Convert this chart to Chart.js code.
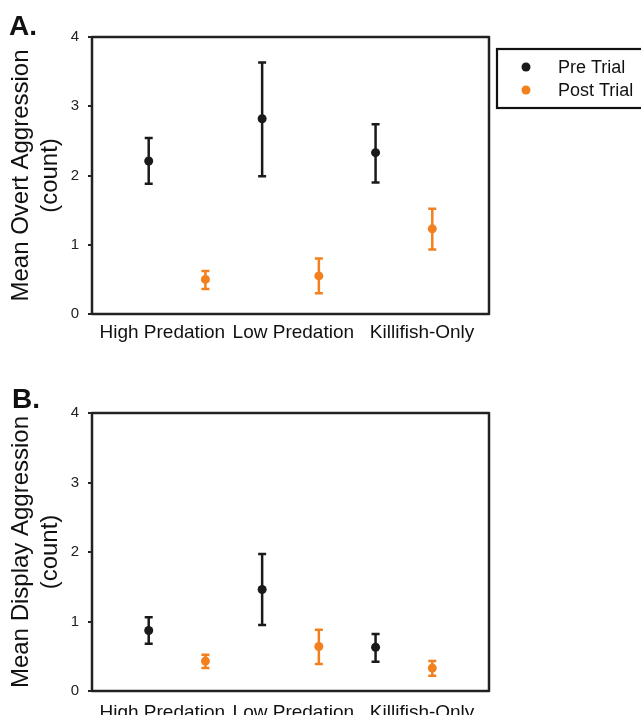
<!DOCTYPE html>
<html><head><meta charset="utf-8">
<script src="https://cdn.jsdelivr.net/npm/chart.js@4/dist/chart.umd.min.js"></script>
<style>
html,body{margin:0;padding:0;background:#fff;overflow:hidden;}
canvas{display:block;}
</style></head>
<body>
<canvas id="cA" width="641" height="360"></canvas>
<canvas id="cB" width="641" height="361"></canvas>
<script>
// ---------- data ----------
const categories = ['High Predation', 'Low Predation', 'Killifish-Only'];
const seriesNames = ['Pre Trial', 'Post Trial'];
const yTickValues = [0, 1, 2, 3, 4];

// Panel A: overt aggression
const overtPre      = [2.21, 2.82, 2.33];
const overtPreLow   = [1.88, 1.99, 1.90];
const overtPreHigh  = [2.54, 3.63, 2.74];
const overtPost     = [0.50, 0.55, 1.23];
const overtPostLow  = [0.36, 0.30, 0.93];
const overtPostHigh = [0.62, 0.80, 1.52];

// Panel B: display aggression
const displayPre      = [0.87, 1.46, 0.63];
const displayPreLow   = [0.68, 0.95, 0.42];
const displayPreHigh  = [1.06, 1.97, 0.82];
const displayPost     = [0.43, 0.64, 0.33];
const displayPostLow  = [0.33, 0.39, 0.22];
const displayPostHigh = [0.52, 0.88, 0.43];

// ---------- styling ----------
const FONT = '"Liberation Sans", Arial, Helvetica, sans-serif';
const BLACK = '#1a1a1a';
const ORANGE = '#f3801f';
const AXIS = '#222222';
const labelPos = [1.24, 3.55, 5.82]; // where category labels sit on the x scale

const errorBarPlugin = {
  id: 'errorBars',
  beforeDatasetsDraw(chart) {
    const ctx = chart.ctx, y = chart.scales.y;
    chart.data.datasets.forEach((ds, di) => {
      const meta = chart.getDatasetMeta(di);
      meta.data.forEach((pt, i) => {
        const x = pt.x;
        const yl = y.getPixelForValue(ds.errLow[i]);
        const yh = y.getPixelForValue(ds.errHigh[i]);
        ctx.save();
        ctx.strokeStyle = ds.borderColor;
        ctx.lineWidth = 2.5;
        ctx.beginPath();
        ctx.moveTo(x, yl); ctx.lineTo(x, yh);
        ctx.moveTo(x - 4, yl); ctx.lineTo(x + 4, yl);
        ctx.moveTo(x - 4, yh); ctx.lineTo(x + 4, yh);
        ctx.stroke();
        ctx.restore();
      });
    });
  }
};

const framePlugin = {
  id: 'frame',
  afterDraw(chart) {
    const {ctx, chartArea: a} = chart;
    ctx.save();
    ctx.strokeStyle = AXIS;
    ctx.lineWidth = 2.5;
    ctx.lineJoin = 'round';
    ctx.strokeRect(a.left, a.top, a.right - a.left, a.bottom - a.top);
    ctx.restore();
  }
};

const panelPlugin = {
  id: 'panelLetter',
  afterDraw(chart, args, opts) {
    if (!opts || !opts.text) return;
    const ctx = chart.ctx;
    ctx.save();
    ctx.fillStyle = '#111';
    ctx.font = 'bold 28px ' + FONT;
    ctx.textBaseline = 'alphabetic';
    ctx.textAlign = 'left';
    ctx.fillText(opts.text, opts.x, opts.y);
    ctx.restore();
  }
};

const boxLegendPlugin = {
  id: 'boxLegend',
  afterDraw(chart, args, opts) {
    if (!opts || !opts.show) return;
    const ctx = chart.ctx;
    ctx.save();
    ctx.strokeStyle = '#111';
    ctx.lineWidth = 2.2;
    ctx.strokeRect(opts.x, opts.y, opts.w, opts.h);
    ctx.font = '18px ' + FONT;
    ctx.textBaseline = 'middle';
    ctx.textAlign = 'left';
    chart.data.datasets.forEach((ds, i) => {
      const cy = opts.y + opts.firstRow + i * opts.rowGap;
      ctx.fillStyle = ds.backgroundColor;
      ctx.beginPath();
      ctx.arc(opts.x + opts.dotX, cy, 4.5, 0, Math.PI * 2);
      ctx.fill();
      ctx.fillStyle = '#111';
      ctx.fillText(ds.label, opts.x + opts.textX, cy + 1);
    });
    ctx.restore();
  }
};

function datasets(pre, preLo, preHi, post, postLo, postHi) {
  const common = {showLine: false, pointRadius: 4.5, pointHoverRadius: 4.5, pointBorderWidth: 0};
  return [
    Object.assign({label: seriesNames[0], data: pre.map((v, i) => ({x: 2 * i + 1, y: v})),
      errLow: preLo, errHigh: preHi, backgroundColor: BLACK, borderColor: BLACK}, common),
    Object.assign({label: seriesNames[1], data: post.map((v, i) => ({x: 2 * i + 2, y: v})),
      errLow: postLo, errHigh: postHi, backgroundColor: ORANGE, borderColor: ORANGE}, common)
  ];
}

function makeChart(id, ds, cfg) {
  return new Chart(document.getElementById(id), {
    type: 'scatter',
    data: {datasets: ds},
    plugins: [errorBarPlugin, framePlugin, panelPlugin, boxLegendPlugin],
    options: {
      responsive: false,
      animation: false,
      events: [],
      layout: {padding: {left: 0, right: 152, top: cfg.top, bottom: cfg.bottom}},
      plugins: {
        legend: {display: false},
        tooltip: {enabled: false},
        panelLetter: cfg.letter,
        boxLegend: cfg.legend
      },
      scales: {
        x: {
          type: 'linear', min: 0, max: 7,
          grid: {display: false, drawTicks: false, tickLength: 0},
          border: {display: false},
          afterBuildTicks: s => { s.ticks = labelPos.map(v => ({value: v})); },
          afterFit: s => { s.height = cfg.xHeight; },
          ticks: {
            autoSkip: false, maxRotation: 0, padding: cfg.xPad,
            color: '#111', font: {family: FONT, size: 19},
            callback: (v, i) => categories[i]
          }
        },
        y: {
          type: 'linear', min: 0, max: 4,
          afterBuildTicks: s => { s.ticks = yTickValues.map(v => ({value: v})); },
          afterFit: s => { s.width = 92; },
          grid: {display: true, drawOnChartArea: false, drawTicks: true, tickLength: 4, color: AXIS, lineWidth: 2},
          border: {display: false},
          ticks: {padding: 9, color: '#222', font: {family: FONT, size: 15}},
          title: {
            display: true, text: cfg.yTitle, color: '#111',
            font: {family: FONT, size: 24, lineHeight: 1.2},
            padding: {top: 7, bottom: 0}
          }
        }
      }
    }
  });
}

makeChart('cA',
  datasets(overtPre, overtPreLow, overtPreHigh, overtPost, overtPostLow, overtPostHigh),
  {top: 37, bottom: 6, xHeight: 40, xPad: 7,
   yTitle: ['Mean Overt Aggression', '(count)'],
   letter: {text: 'A.', x: 9, y: 35},
   legend: {show: true, x: 497, y: 49, w: 150, h: 59, dotX: 29, textX: 61, firstRow: 18, rowGap: 23}});

makeChart('cB',
  datasets(displayPre, displayPreLow, displayPreHigh, displayPost, displayPostLow, displayPostHigh),
  {top: 53, bottom: 6, xHeight: 24, xPad: 10,
   yTitle: ['Mean Display Aggression', '(count)'],
   letter: {text: 'B.', x: 12, y: 48},
   legend: {show: false}});
</script>
</body></html>
